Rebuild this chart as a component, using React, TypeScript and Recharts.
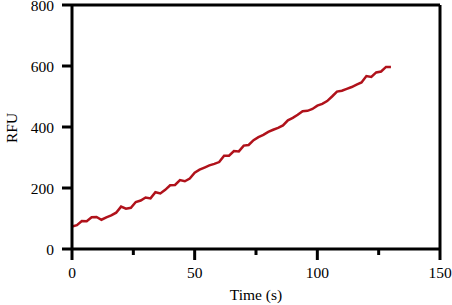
import { LineChart, Line, XAxis, YAxis, ReferenceLine, Label } from "recharts";

const times = [
  0, 2, 4, 6, 8, 10, 12, 14, 16, 18, 20, 22, 24, 26, 28, 30, 32, 34, 36, 38, 40, 42,
  44, 46, 48, 50, 52, 54, 56, 58, 60, 62, 64, 66, 68, 70, 72, 74, 76, 78, 80, 82, 84,
  86, 88, 90, 92, 94, 96, 98, 100, 102, 104, 106, 108, 110, 112, 114, 116, 118, 120,
  122, 124, 126, 128, 130,
];

const rfu = [
  74, 78, 92, 91, 104, 105, 96, 104, 110, 119, 139, 132, 135, 154, 159, 169, 166, 186,
  182, 194, 209, 210, 226, 222, 231, 250, 260, 267, 274, 279, 285, 306, 306, 321, 320,
  339, 341, 357, 367, 374, 384, 391, 397, 405, 422, 430, 440, 452, 453, 459, 470, 476,
  485, 500, 516, 519, 525, 531, 539, 546, 567, 564, 579, 582, 597, 597,
];

const xTicks = [0, 25, 50, 75, 100, 125, 150];
const xLabelled = [0, 50, 100, 150];
const yTicks = [0, 200, 400, 600, 800];

const data = times.map((t, i) => ({ time: t, rfu: rfu[i] }));

const FONT = "'Liberation Serif', 'Times New Roman', serif";

function XTick(props: any) {
  const { x, y, payload } = props;
  const major = xLabelled.includes(payload.value);
  return (
    <g>
      <line x1={x} x2={x} y1={y} y2={y + (major ? 11 : 6)} stroke="#000" strokeWidth={3} />
      {major && (
        <text x={x} y={y + 29} textAnchor="middle" fontFamily={FONT} fontSize={15.5} fill="#000">
          {payload.value}
        </text>
      )}
    </g>
  );
}

export default function App() {
  return (
    <div style={{ position: "absolute", left: 0, top: 0, width: 452, height: 305, background: "#fff" }}>
      <LineChart width={452} height={305} data={data} margin={{ top: 5, right: 12, bottom: 0, left: 0 }}>
        <XAxis
          dataKey="time"
          type="number"
          domain={[0, 150]}
          ticks={xTicks}
          interval={0}
          height={56}
          tickSize={0}
          tickMargin={0}
          tickLine={false}
          axisLine={{ stroke: "#000", strokeWidth: 3 }}
          tick={<XTick />}
        >
          <Label
            content={() => (
              <text x={256} y={300} textAnchor="middle" fontFamily={FONT} fontSize={15.5} fill="#000">
                Time (s)
              </text>
            )}
          />
        </XAxis>
        <YAxis
          type="number"
          domain={[0, 800]}
          ticks={yTicks}
          interval={0}
          width={72}
          tickSize={10}
          tickMargin={8}
          tickLine={{ stroke: "#000", strokeWidth: 3 }}
          axisLine={{ stroke: "#000", strokeWidth: 3 }}
          tick={{ fill: "#000", fontSize: 15.5, fontFamily: FONT }}
        >
          <Label
            content={() => (
              <text
                x={17}
                y={128}
                transform="rotate(-90 17 128)"
                textAnchor="middle"
                fontFamily={FONT}
                fontSize={15.5}
                fill="#000"
              >
                RFU
              </text>
            )}
          />
        </YAxis>
        <ReferenceLine y={800} stroke="#000" strokeWidth={3} />
        <ReferenceLine x={150} stroke="#000" strokeWidth={3} />
        <Line
          type="linear"
          dataKey="rfu"
          stroke="#b0121b"
          strokeWidth={2.5}
          dot={false}
          isAnimationActive={false}
        />
      </LineChart>
    </div>
  );
}
